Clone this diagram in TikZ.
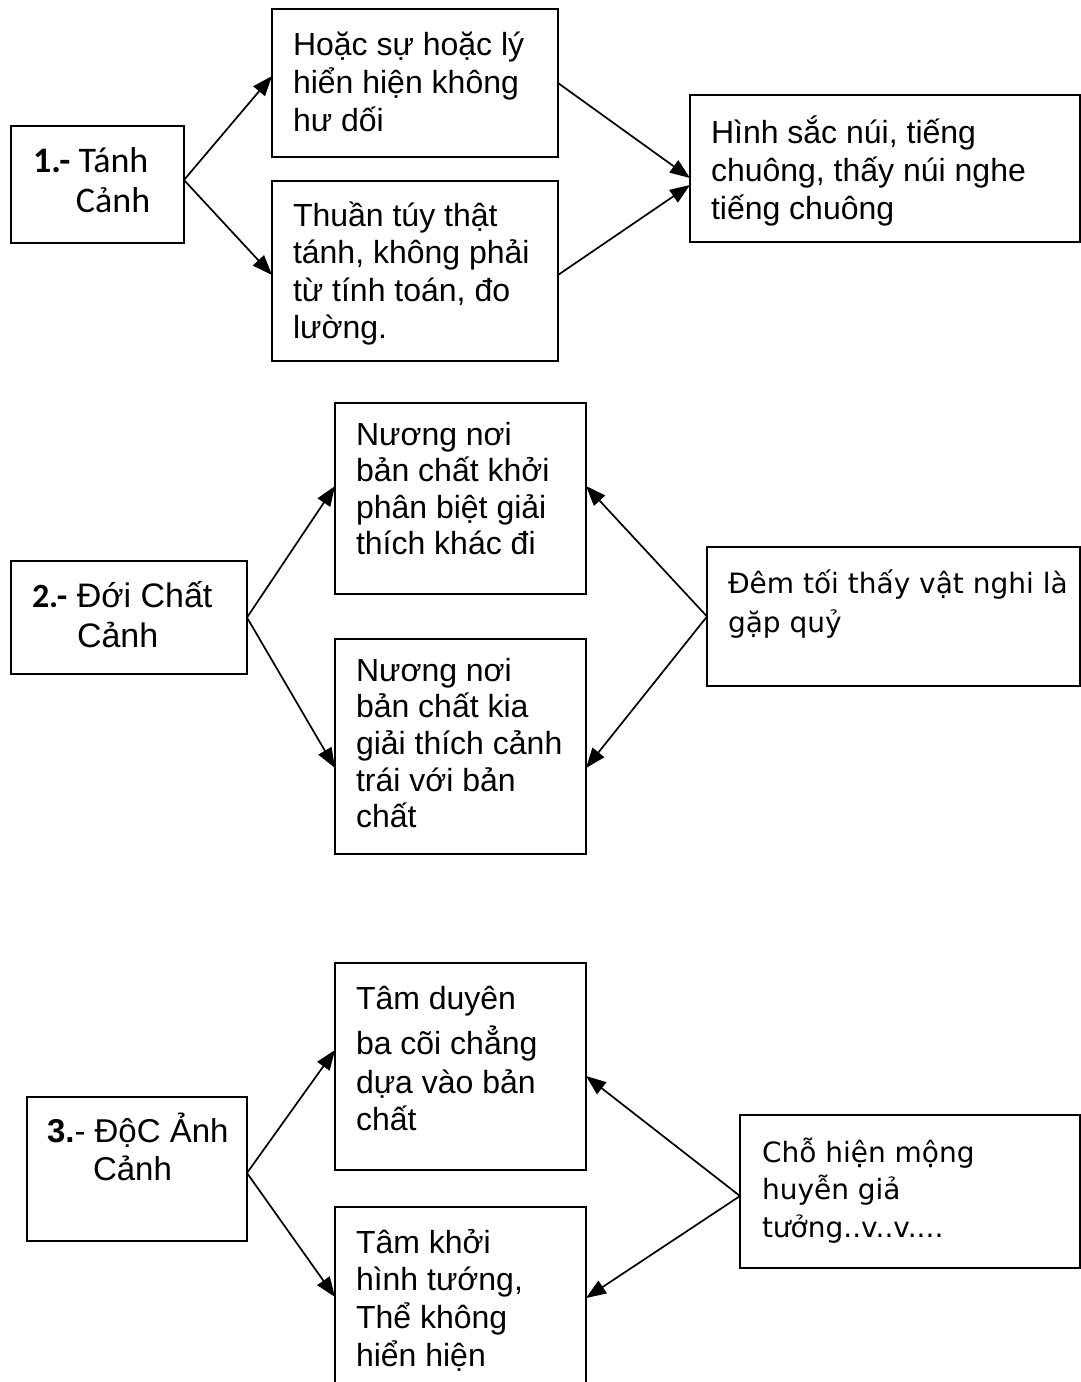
\documentclass[tikz,border=0pt]{standalone}
\usepackage{fontspec}
\setmainfont{Liberation Sans}
\newfontfamily\calibfont{Carlito}
\newfontfamily\tahfont{DejaVu Sans}
\usetikzlibrary{arrows.meta}

\tikzset{
  box/.style={draw, rectangle, line width=2pt, inner sep=0pt, outer sep=0pt},
  link/.style={line width=1.7pt, -{Triangle[length=20pt,width=15pt]}},
  txt/.style={anchor=base west, inner sep=0pt, outer sep=0pt},
}

\begin{document}
\begin{tikzpicture}[x=1pt,y=-1pt]
\useasboundingbox (0,0) rectangle (1081,1382);
\fill[white] (0,0) rectangle (1081,1382);
\clip (0,0) rectangle (1081,1382);

% ---------- 1.- Tánh Cảnh ----------
\node[box, minimum width=173pt, minimum height=117pt] (a1) at (97.5,184.5) {};
\node[box, minimum width=286pt, minimum height=148pt] (b1) at (415,83) {};
\node[box, minimum width=286pt, minimum height=180pt] (c1) at (415,271) {};
\node[box, minimum width=390pt, minimum height=147pt] (d1) at (885,168.5) {};

\node[txt] (ta1) at (33,172) {\parbox[t]{160pt}{\raggedright\calibfont\fontsize{36}{40}\selectfont
  \textbf{1.-} Tánh\\\hspace*{43pt}Cảnh}};
\node[txt] (tb1) at (293,55) {\parbox[t]{270pt}{\raggedright\fontsize{32}{38}\selectfont
  Hoặc sự hoặc lý\\hiển hiện không\\hư dối}};
\node[txt] (tc1) at (293,226) {\parbox[t]{270pt}{\raggedright\fontsize{32}{37.5}\selectfont
  Thuần túy thật\\tánh, không phải\\từ tính toán, đo\\lường.}};
\node[txt] (td1) at (711,143) {\parbox[t]{370pt}{\raggedright\fontsize{32}{38}\selectfont
  Hình sắc núi, tiếng\\chuông, thấy núi nghe\\tiếng chuông}};

\draw[link] ([yshift=4.5pt]a1.east) -- ([yshift=-67pt]b1.north west);
\draw[link] ([yshift=4.5pt]a1.east) -- ([yshift=-94pt]c1.north west);
\draw[link] (b1.east) -- ([yshift=-83pt]d1.north west);
\draw[link] ([yshift=-94pt]c1.north east) -- ([yshift=-90pt]d1.north west);

% ---------- 2.- Đới Chất Cảnh ----------
\node[box, minimum width=236pt, minimum height=113pt] (a2) at (129,617.5) {};
\node[box, minimum width=251pt, minimum height=191pt] (b2) at (460.5,498.5) {};
\node[box, minimum width=251pt, minimum height=215pt] (c2) at (460.5,746.5) {};
\node[box, minimum width=373pt, minimum height=139pt] (d2) at (893.5,616.5) {};

\node[txt] (ta2) at (32,607) {\parbox[t]{220pt}{\raggedright\fontsize{34}{40}\selectfont
  {\calibfont\bfseries 2.-} Đới Chất\\\hspace*{45pt}Cảnh}};
\node[txt] (tb2) at (356,445) {\parbox[t]{230pt}{\raggedright\fontsize{32}{36.5}\selectfont
  Nương nơi\\bản chất khởi\\phân biệt giải\\thích khác đi}};
\node[txt] (tc2) at (356,681) {\parbox[t]{230pt}{\raggedright\fontsize{32}{36.7}\selectfont
  Nương nơi\\bản chất kia\\giải thích cảnh\\trái với bản\\chất}};
\node[txt] (td2) at (728,593) {\parbox[t]{360pt}{\raggedright\tahfont\fontsize{28}{39}\selectfont
  Đêm tối thấy vật nghi là\\gặp quỷ}};

\draw[link] (a2.east) -- ([yshift=-83pt]b2.north west);
\draw[link] (a2.east) -- ([yshift=-129pt]c2.north west);
\draw[link] (d2.west) -- ([yshift=-83pt]b2.north east);
\draw[link] (d2.west) -- ([yshift=-129pt]c2.north east);

% ---------- 3.- Độc Ảnh Cảnh ----------
\node[box, minimum width=220pt, minimum height=144pt] (a3) at (137,1169) {};
\node[box, minimum width=251pt, minimum height=207pt] (b3) at (460.5,1066.5) {};
\node[box, minimum width=251pt, minimum height=193pt] (c3) at (460.5,1303.5) {};
\node[box, minimum width=340pt, minimum height=153pt] (d3) at (910,1191.5) {};

\node[txt] (ta3) at (47,1142) {\parbox[t]{200pt}{\raggedright\fontsize{33}{38}\selectfont
  \textbf{3.}- ĐộC Ảnh\\\hspace*{46pt}Cảnh}};
\node[txt] (tb3) at (356,1009) {\parbox[t]{230pt}{\raggedright\fontsize{32}{37}\selectfont
  Tâm duyên\\[8pt]ba cõi chẳng\\[2pt]dựa vào bản\\chất}};
\node[txt] (tc3) at (356,1253) {\parbox[t]{230pt}{\raggedright\fontsize{32}{37.8}\selectfont
  Tâm khởi\\hình tướng,\\Thể không\\hiển hiện}};
\node[txt] (td3) at (762,1162) {\parbox[t]{310pt}{\raggedright\tahfont\fontsize{28}{37.5}\selectfont
  Chỗ hiện mộng\\huyễn giả\\tưởng..v..v....}};

\draw[link] ([yshift=-4pt]a3.east) -- ([yshift=-87pt]b3.north west);
\draw[link] ([yshift=-4pt]a3.east) -- ([yshift=-90pt]c3.north west);
\draw[link] ([yshift=-4.5pt]d3.west) -- ([yshift=-113pt]b3.north east);
\draw[link] ([yshift=-4.5pt]d3.west) -- ([yshift=-91pt]c3.north east);
\end{tikzpicture}
\end{document}
